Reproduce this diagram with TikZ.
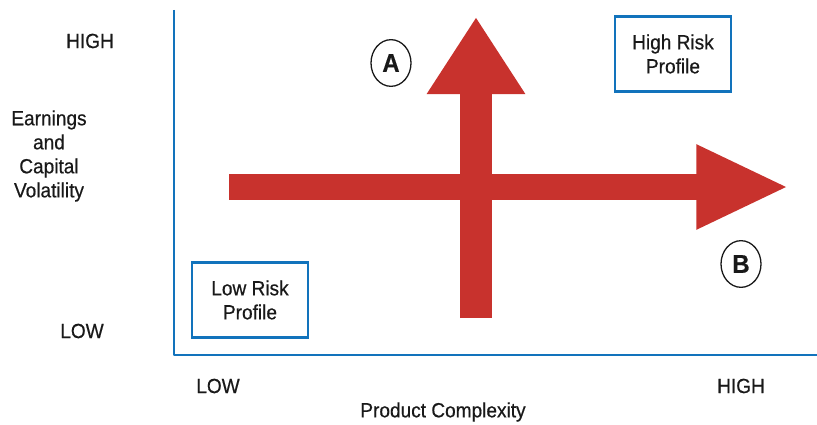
\documentclass[tikz,border=0pt]{standalone}
\usepackage{fontspec}
\setmainfont{Liberation Sans}[FakeStretch=0.93, FakeBold=0.5]
\usepackage{tikz}
\usetikzlibrary{arrows.meta}
\usetikzlibrary{shapes.geometric}
\definecolor{axisblue}{RGB}{18,115,188}
\definecolor{arrowred}{RGB}{200,50,45}
\tikzset{
    axislabel/.style={font=\fontsize{17.5}{20.5}\selectfont, text=black!90, inner sep=0pt, align=center},
    riskbox/.style={draw=axisblue, line width=2pt, minimum width=3.48cm, minimum height=2.25cm, align=center, font=\fontsize{17.5}{20.5}\selectfont, text=black!90},
    markcirc/.style={draw=black!90, line width=1.1pt, ellipse, minimum width=1.2cm, minimum height=1.4cm, inner sep=0pt, font=\bfseries\fontsize{22}{24}\selectfont, text=black!90}
}

\begin{document}
\begin{tikzpicture}[x=0.03cm, y=-0.03cm]
    \useasboundingbox (0,0) rectangle (817,425);

    % axes
    \coordinate (ytop) at (174,10);
    \coordinate (orig) at (174,355);
    \coordinate (xend) at (817,355);
    \draw[axisblue, line width=2.4pt, line join=round] (ytop) -- (orig) -- (xend);

    % axis labels
    \node[axislabel] (yhigh) at (90,41) {HIGH};
    \node[axislabel] (ylow) at (82,331) {LOW};
    \node[axislabel] (ytitle) at (49,156) {Earnings\\and\\Capital\\Volatility};
    \node[axislabel] (xlow) at (218,386) {LOW};
    \node[axislabel] (xhigh) at (741,386) {HIGH};
    \node[axislabel] (xtitle) at (443,412) {Product Complexity};

    % the two big arrows
    \coordinate (hstart) at (229,187);
    \coordinate (hend) at (789,187);
    \coordinate (vstart) at (476,318);
    \coordinate (vend) at (476,17);
    \draw[arrowred, line width=0.8cm, -{Triangle[length=2.78cm, width=2.34cm]}] (hstart) -- (hend);
    \draw[arrowred, line width=0.96cm, -{Triangle[length=2.31cm, width=2.79cm]}] (vstart) -- (vend);

    % markers and boxes
    \node[markcirc] (markA) at (391,63) {A};
    \node[markcirc] (markB) at (741,264) {B};
    \node[riskbox] (lowrisk) at (250,300) {Low Risk\\Profile};
    \node[riskbox] (highrisk) at (673,54) {High Risk\\Profile};
\end{tikzpicture}
\end{document}
